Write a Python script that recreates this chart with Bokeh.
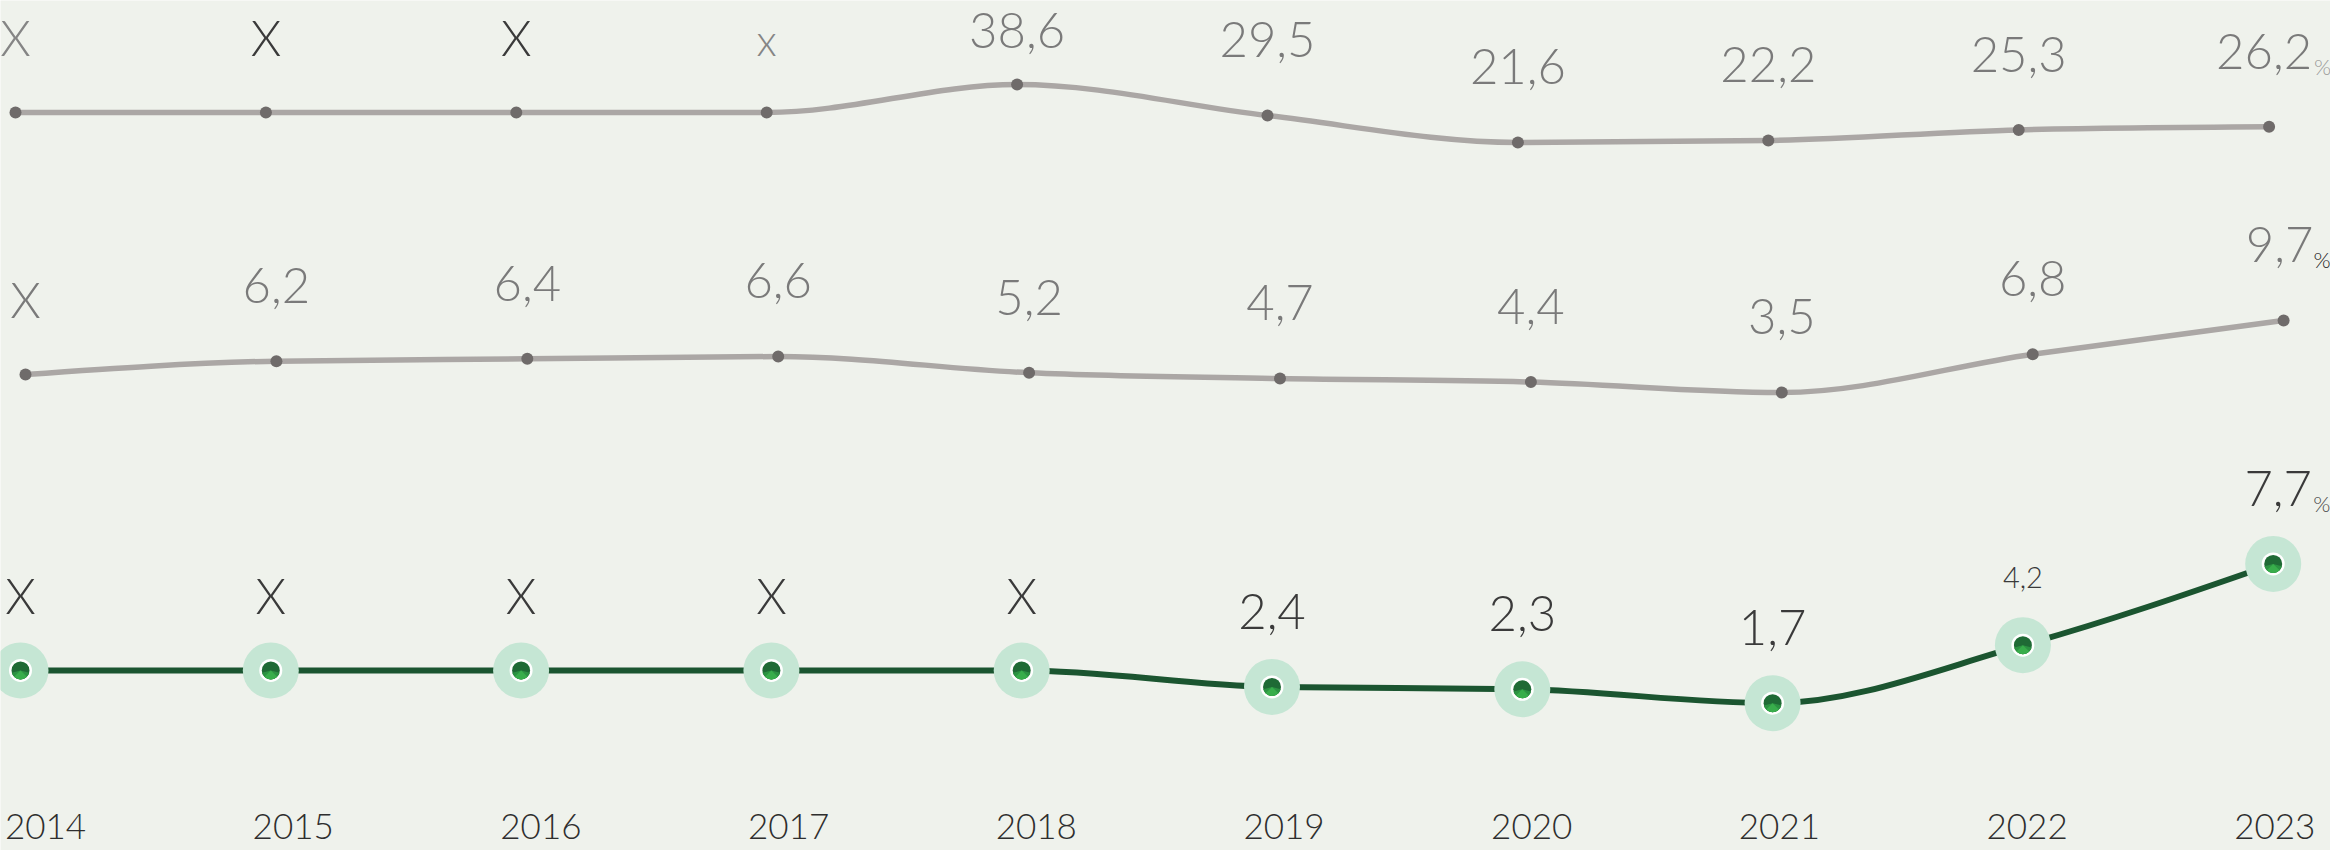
import numpy as np
from bokeh.plotting import figure
from bokeh.models import Range1d, ColumnDataSource
from bokeh.core.properties import value
from bokeh.embed import file_html
from bokeh.resources import INLINE

# ---------------- data ----------------
years = [2014, 2015, 2016, 2017, 2018, 2019, 2020, 2021, 2022, 2023]
series_top = [None, None, None, None, 38.6, 29.5, 21.6, 22.2, 25.3, 26.2]
series_mid = [None, 6.2, 6.4, 6.6, 5.2, 4.7, 4.4, 3.5, 6.8, 9.7]
series_bot = [None, None, None, None, None, 2.4, 2.3, 1.7, 4.2, 7.7]
missing_text = "X"
# level where each line runs through the years without data ("X")
missing_level_top = 30.4
missing_level_mid = 5.05
missing_level_bot = 3.11

# ---------------- style ----------------
BG = "#eff2ec"
FONT = value("Lato Light")
W, H = 2330, 850
TXT_SHIFT = 0.40              # baseline correction (fraction of font size)

GRAY_LINE = "#aba7a5"
GRAY_DOT = "#6f6b6a"
GRAY_TXT = "#7a7a7a"
DARK_TXT = "#3a3a3a"
GREEN_LINE = "#1b5530"
HALO = "#c5e6d4"

top_label_colors = ["#858585", DARK_TXT, DARK_TXT, "#858585"] + [GRAY_TXT] * 6
top_label_sizes = [49, 49, 49, 43] + [49] * 6
mid_label_colors = [GRAY_TXT] * 10
mid_label_sizes = [49] * 10
bot_label_colors = [DARK_TXT] * 10
bot_label_sizes = [49] * 8 + [29, 49]
top_missing_text = ["X", "X", "X", "x"]

LABEL_GAP = 56
LABEL_TOP_LIMIT = 50


def x_range_for(x0, step):
    return Range1d(2014 + (0 - x0) / step, 2014 + (W - x0) / step)


def y_map(y_at, v_at, ppu):
    def f(v):
        return y_at - ppu * (v - v_at)
    def inv(py):
        return v_at + (y_at - py) / ppu
    return f, Range1d(inv(H), inv(0))


p = figure(width=W, height=H, output_backend="svg", toolbar_location=None,
           x_axis_location=None, y_axis_location=None, min_border=0,
           x_range=x_range_for(45, 247.7), y_range=Range1d(H, 0))
p.background_fill_color = BG
p.border_fill_color = BG
p.outline_line_color = None
p.grid.visible = False

top_f, top_yr = y_map(142, 21.6, 3.41)
mid_f, mid_yr = y_map(392, 3.5, 11.61)
bot_f, bot_yr = y_map(657.2, 3.66, 23.2)

p.extra_x_ranges = {"top_x": x_range_for(15, 250.4),
                    "mid_x": x_range_for(25, 250.9),
                    "bot_x": x_range_for(20, 250.3)}
p.extra_y_ranges = {"top_y": top_yr, "mid_y": mid_yr, "bot_y": bot_yr}


def monotone_beziers(xs, ys):
    xs = np.asarray(xs, float)
    ys = np.asarray(ys, float)
    n = len(xs)
    h = np.diff(xs)
    s = np.diff(ys) / h
    t = np.zeros(n)
    for i in range(1, n - 1):
        h0, h1, s0, s1 = h[i - 1], h[i], s[i - 1], s[i]
        pp = (s0 * h1 + s1 * h0) / (h0 + h1)
        t[i] = (np.sign(s0) + np.sign(s1)) * min(abs(s0), abs(s1), 0.5 * abs(pp))
    t[0] = (3 * s[0] - t[1]) / 2
    t[-1] = (3 * s[-1] - t[-2]) / 2
    return dict(x0=xs[:-1], y0=ys[:-1], x1=xs[1:], y1=ys[1:],
                cx0=xs[:-1] + h / 3, cy0=ys[:-1] + h / 3 * t[:-1],
                cx1=xs[1:] - h / 3, cy1=ys[1:] - h / 3 * t[1:])


def fmt(v):
    return ("%.1f" % v).replace(".", ",")


def draw_series(vals, missing_level, fmap, xname, yname, line_color, lw,
                colors, sizes, last_dx, missing_texts=None):
    yv = [missing_level if v is None else v for v in vals]
    bz = monotone_beziers(years, yv)
    p.bezier(source=ColumnDataSource(bz), x0="x0", y0="y0", x1="x1", y1="y1",
             cx0="cx0", cy0="cy0", cx1="cx1", cy1="cy1",
             line_color=line_color, line_width=lw, line_cap="round",
             x_range_name=xname, y_range_name=yname)
    texts = []
    mi = 0
    for v in vals:
        if v is None:
            texts.append(missing_texts[mi] if missing_texts else missing_text)
            mi += 1
        else:
            texts.append(fmt(v))
    offs = []
    for v, sz in zip(yv, sizes):
        py = fmap(v)
        base = max(py - LABEL_GAP, LABEL_TOP_LIMIT)
        offs.append((base - py) - TXT_SHIFT * sz)
    xoffs = [0] * (len(years) - 1) + [last_dx]
    src = ColumnDataSource(dict(x=years, y=yv, text=texts, color=colors,
                                size=["%dpx" % s for s in sizes], yoff=offs,
                                xoff=xoffs))
    return src


# top series
src_top = draw_series(series_top, missing_level_top, top_f, "top_x", "top_y",
                      GRAY_LINE, 5.5, top_label_colors, top_label_sizes, -5,
                      top_missing_text)
p.scatter("x", "y", source=src_top, size=12, fill_color=GRAY_DOT, line_color=None,
          x_range_name="top_x", y_range_name="top_y")

# middle series
src_mid = draw_series(series_mid, missing_level_mid, mid_f, "mid_x", "mid_y",
                      GRAY_LINE, 5.5, mid_label_colors, mid_label_sizes, -4)
p.scatter("x", "y", source=src_mid, size=12, fill_color=GRAY_DOT, line_color=None,
          x_range_name="mid_x", y_range_name="mid_y")

# bottom series
src_bot = draw_series(series_bot, missing_level_bot, bot_f, "bot_x", "bot_y",
                      GREEN_LINE, 6, bot_label_colors, bot_label_sizes, 5)
p.scatter("x", "y", source=src_bot, size=56, fill_color=HALO, line_color=None,
          x_range_name="bot_x", y_range_name="bot_y")
p.scatter("x", "y", source=src_bot, size=23, fill_color="white", line_color=None,
          x_range_name="bot_x", y_range_name="bot_y")
p.scatter("x", "y", source=src_bot, size=18, fill_color="#1f6a35", line_color=None,
          x_range_name="bot_x", y_range_name="bot_y")
p.wedge("x", "y", source=src_bot, radius=9, radius_units="screen",
        start_angle=np.pi * 1.08, end_angle=np.pi * 1.92,
        fill_color="#2c9242", line_color=None,
        x_range_name="bot_x", y_range_name="bot_y")
p.wedge("x", "y", source=src_bot, radius=9, radius_units="screen",
        start_angle=np.pi * 1.25, end_angle=np.pi * 1.75,
        fill_color="#38ad4b", line_color=None,
        x_range_name="bot_x", y_range_name="bot_y")

for src, xn, yn in [(src_top, "top_x", "top_y"), (src_mid, "mid_x", "mid_y"),
                    (src_bot, "bot_x", "bot_y")]:
    p.text("x", "y", text="text", source=src, text_color="color",
           text_font_size="size", text_font=FONT, text_align="center",
           text_baseline="alphabetic", y_offset="yoff", x_offset="xoff",
           x_range_name=xn, y_range_name=yn)

# percent signs after the 2023 values
PCT_SIZE = 22
for src, xn, yn, col, dx in [(src_top, "top_x", "top_y", "#9a9a9a", 45),
                             (src_mid, "mid_x", "mid_y", "#1e1e1e", 30),
                             (src_bot, "bot_x", "bot_y", "#4a4a4a", 40)]:
    last_y = src.data["y"][-1]
    last_off = src.data["yoff"][-1] + TXT_SHIFT * 49 - TXT_SHIFT * PCT_SIZE
    p.text(x=[years[-1]], y=[last_y], text=["%"], text_color=col,
           text_font_size="%dpx" % PCT_SIZE, text_font=FONT, text_align="left",
           text_baseline="alphabetic", x_offset=dx, y_offset=last_off + 4,
           x_range_name=xn, y_range_name=yn)

# year labels along the bottom edge
YEAR_SIZE = 35
p.text(x=years, y=[H - 10] * len(years), text=[str(y) for y in years],
       text_color="#2e2e2e", text_font_size="%dpx" % YEAR_SIZE, text_font=FONT,
       text_align="center", text_baseline="alphabetic",
       y_offset=-TXT_SHIFT * YEAR_SIZE)

open("out.html", "w").write(file_html(p, INLINE))
